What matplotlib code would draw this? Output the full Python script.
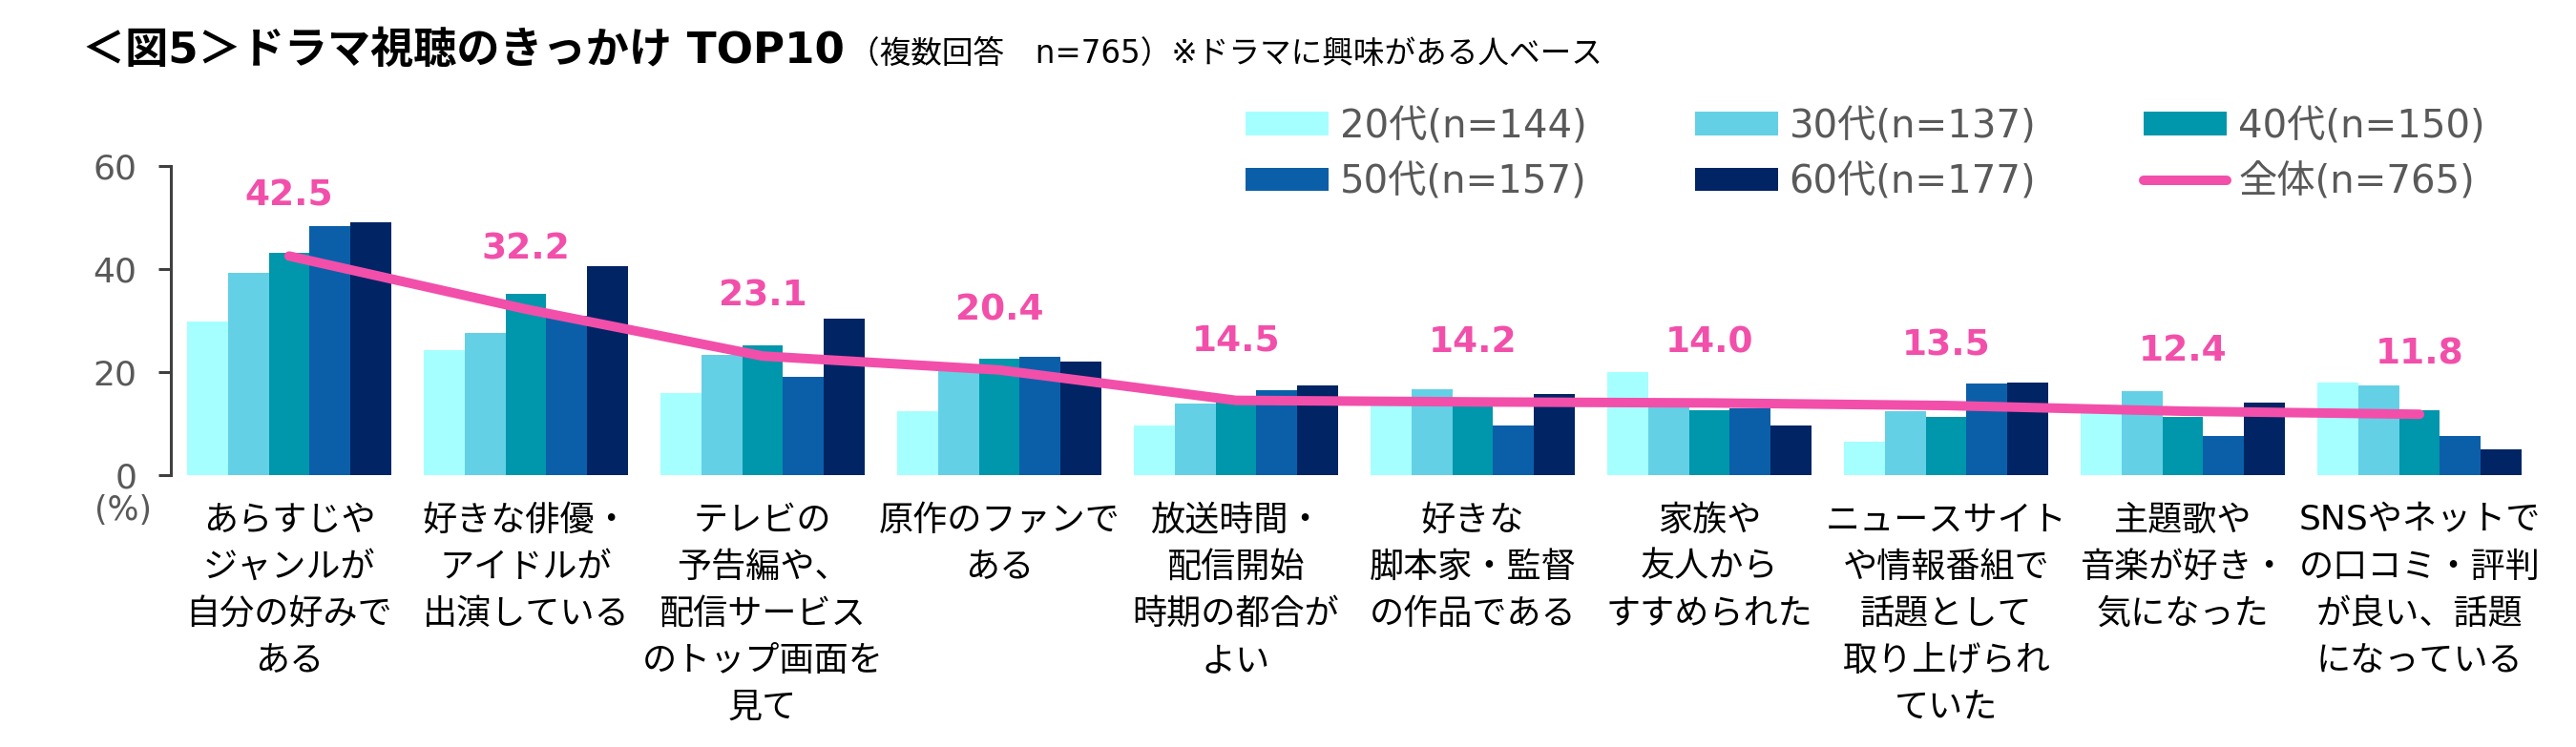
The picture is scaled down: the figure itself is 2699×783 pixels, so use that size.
import matplotlib
matplotlib.use("Agg")
import matplotlib.pyplot as plt
import numpy as np

plt.rcParams['font.family'] = ['DejaVu Sans', 'Noto Sans CJK JP']

# ---- data ----
categories = [
    "あらすじや\nジャンルが\n自分の好みで\nある",
    "好きな俳優・\nアイドルが\n出演している",
    "テレビの\n予告編や、\n配信サービス\nのトップ画面を\n見て",
    "原作のファンで\nある",
    "放送時間・\n配信開始\n時期の都合が\nよい",
    "好きな\n脚本家・監督\nの作品である",
    "家族や\n友人から\nすすめられた",
    "ニュースサイト\nや情報番組で\n話題として\n取り上げられ\nていた",
    "主題歌や\n音楽が好き・\n気になった",
    "SNSやネットで\nの口コミ・評判\nが良い、話題\nになっている",
]
age_labels = ["20代(n=144)", "30代(n=137)", "40代(n=150)", "50代(n=157)", "60代(n=177)"]
age20 = [29.8, 24.3, 16.0, 12.4, 9.7, 14.0, 20.0, 6.4, 12.2, 18.0]
age30 = [39.3, 27.6, 23.4, 20.8, 13.9, 16.7, 13.5, 12.4, 16.2, 17.4]
age40 = [43.2, 35.2, 25.2, 22.6, 14.2, 13.8, 12.6, 11.3, 11.3, 12.6]
age50 = [48.3, 31.0, 19.1, 23.0, 16.5, 9.7, 13.0, 17.8, 7.6, 7.6]
age60 = [49.1, 40.6, 30.4, 22.1, 17.4, 15.8, 9.7, 18.0, 14.1, 5.0]
overall_label = "全体(n=765)"
overall = [42.5, 32.2, 23.1, 20.4, 14.5, 14.2, 14.0, 13.5, 12.4, 11.8]

bar_colors = ["#A6FFFF", "#63D0E6", "#0096AB", "#0B5FA9", "#002464"]
line_color = "#F24FAA"
gray = "#595959"

W, H = 2699, 783
fig = plt.figure(figsize=(W / 100, H / 100), dpi=100)
ax = fig.add_axes([0.0663, 0.364, 0.9189, 0.414])

x = np.arange(len(categories))
width = 0.1726
series = [age20, age30, age40, age50, age60]
bars = []
for i, (vals, col) in enumerate(zip(series, bar_colors)):
    b = ax.bar(x + (i - 2) * width, vals, width, color=col, label=age_labels[i], zorder=2)
    bars.append(b)

line, = ax.plot(x, overall, color=line_color, lw=7.2, solid_capstyle='round',
                solid_joinstyle='round', zorder=3, label=overall_label)

for xi, v in zip(x, overall):
    ax.annotate(f"{v:.1f}", (xi, v), xytext=(0, 45), textcoords='offset points',
                ha='center', va='center', color=line_color, fontsize=27,
                fontweight='bold', zorder=4)

ax.set_xlim(-0.5, len(categories) - 0.5)
ax.set_ylim(0, 60)
ax.set_yticks([0, 20, 40, 60])
ax.set_xticks(x)
ax.set_xticklabels(categories, fontsize=26, linespacing=1.56)
ax.tick_params(axis='x', length=0, pad=22)
ax.tick_params(axis='y', direction='out', length=9.5, width=2.2, color='#404040',
               labelsize=26, labelcolor=gray, pad=16)
for s in ['top', 'right', 'bottom']:
    ax.spines[s].set_visible(False)
ax.spines['left'].set_color('#404040')
ax.spines['left'].set_linewidth(2.2)

fig.text(129 / W, 1 - 535 / H, "(%)", ha='center', va='center', fontsize=25, color=gray)

# title and note, note placed right after the title
title = fig.text(86 / W, 1 - 66 / H, "＜図5＞ドラマ視聴のきっかけ TOP10", fontsize=32.5,
                 fontweight='bold', color='black', ha='left', va='baseline')
fig.canvas.draw()
tb = title.get_window_extent()
fig.text((tb.x1 + 4) / W, 1 - 66 / H, "（複数回答　n=765）※ドラマに興味がある人ベース",
         fontsize=23.5, color='black', ha='left', va='baseline')

# legend: 3 columns x 2 rows, filled column-major
handles = [bars[0], bars[3], bars[1], bars[4], bars[2], line]
labels = [age_labels[0], age_labels[3], age_labels[1], age_labels[4], age_labels[2], overall_label]
ax.legend(handles, labels, ncol=3, loc='upper left',
          bbox_to_anchor=(1305 / W, 1 - 113 / H), bbox_transform=fig.transFigure,
          frameon=False, fontsize=29, labelcolor=gray, handlelength=2.16,
          handleheight=0.57, handletextpad=0.3, columnspacing=2.8,
          labelspacing=0.45, borderpad=0, borderaxespad=0)

fig.savefig("out.png", dpi=100)
